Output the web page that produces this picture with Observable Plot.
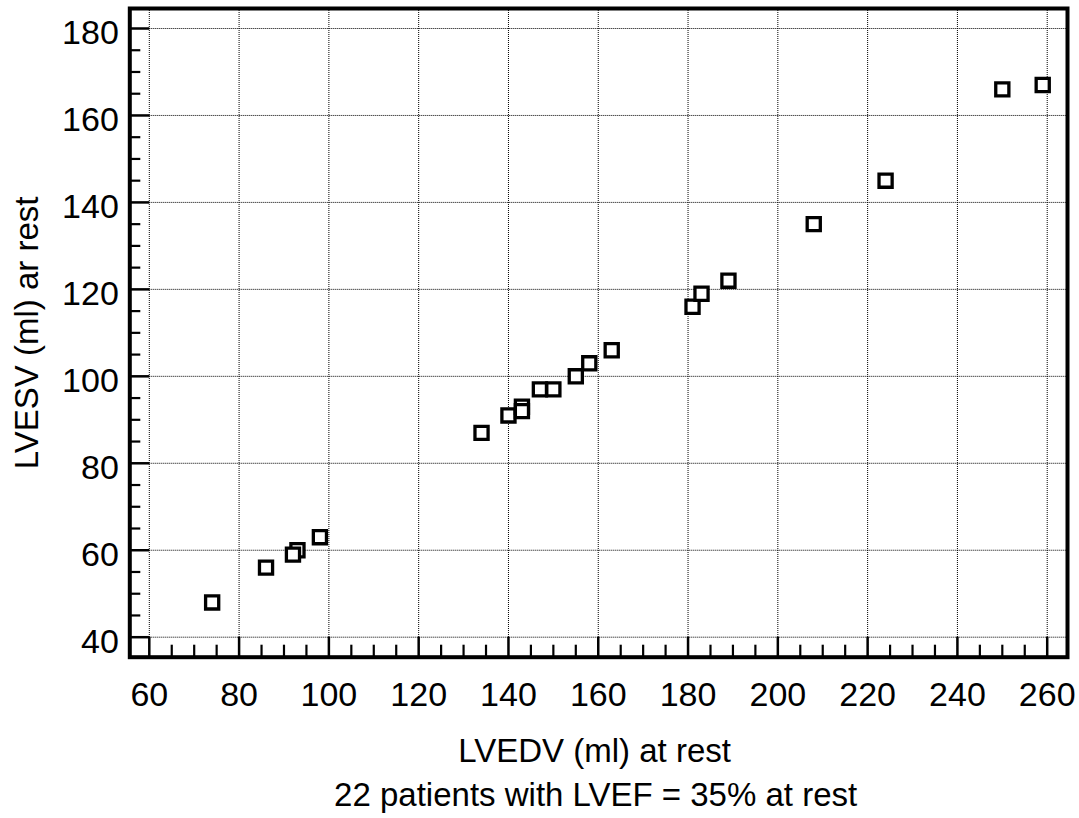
<!DOCTYPE html>
<html>
<head>
<meta charset="utf-8">
<script src="https://cdn.jsdelivr.net/npm/d3@7"></script>
<script src="https://cdn.jsdelivr.net/npm/@observablehq/plot@0.6"></script>
<style>
  html, body { margin: 0; padding: 0; background: #fff; }
  #chart svg { display: block; }
</style>
</head>
<body>
<div id="chart"></div>
<script>
// LVEDV (x) and LVESV (y) at rest
const lvedv = [74, 86, 93, 92, 98, 134, 140, 143, 143, 147, 150, 155, 158, 163, 181, 183, 189, 208, 224, 250, 259];
const lvesv = [48, 56, 60, 59, 63, 87, 91, 93, 92, 97, 97, 100, 103, 106, 116, 119, 122, 135, 145, 166, 167];

const xTicks = [60, 80, 100, 120, 140, 160, 180, 200, 220, 240, 260];
const yTicks = [40, 60, 80, 100, 120, 140, 160, 180];

const xLabel = "LVEDV (ml) at rest";
const yLabel = "LVESV (ml) ar rest";
const caption = "22 patients with LVEF = 35% at rest";

const data = lvedv.map((x, i) => ({x, y: lvesv[i]}));
const xMinor = d3.range(60, 261, 5).filter(v => v % 20 !== 0);
const yMinor = d3.range(40, 181, 5).filter(v => v % 20 !== 0);

const W = 1079, H = 818;
const mL = 129.3, mR = 12, mT = 8, mB = 161.3;
const innerW = W - mL - mR, innerH = H - mT - mB;
const font = "'Liberation Sans', Arial, Helvetica, sans-serif";

const chart = Plot.plot({
  width: W,
  height: H,
  marginLeft: mL,
  marginRight: mR,
  marginTop: mT,
  marginBottom: mB,
  style: {fontFamily: font, fontSize: "33px", background: "#fff", color: "#000", overflow: "visible"},
  x: {domain: [55.657, 264.52]},
  y: {domain: [35.4, 184.6]},
  marks: [
    // dotted grid
    Plot.ruleX(xTicks, {x: d => d, stroke: "#000", strokeWidth: 1, strokeDasharray: "1,1"}),
    Plot.ruleY(yTicks, {y: d => d, stroke: "#000", strokeWidth: 1, strokeDasharray: "1,1"}),
    // inward ticks
    Plot.ruleX(xTicks, {x: d => d, insetTop: innerH - 20, stroke: "#000", strokeWidth: 2.5}),
    Plot.ruleX(xMinor, {x: d => d, insetTop: innerH - 12, stroke: "#000", strokeWidth: 2.2}),
    Plot.ruleY(yTicks, {y: d => d, insetRight: innerW - 20, stroke: "#000", strokeWidth: 2.5}),
    Plot.ruleY(yMinor, {y: d => d, insetRight: innerW - 11, stroke: "#000", strokeWidth: 2.2}),
    // points
    Plot.dot(data, {x: "x", y: "y", symbol: "square", r: 7.4, stroke: "#000", strokeWidth: 3.3, fill: "#fff"}),
    // frame
    Plot.frame({stroke: "#000", strokeWidth: 4}),
    // tick labels
    Plot.axisX(xTicks, {tickSize: 0, tickPadding: 25, fontSize: 34, label: null}),
    Plot.axisY(yTicks, {tickSize: 0, tickPadding: 11, fontSize: 34, dy: 4.5, label: null}),
    // axis titles
    Plot.text([xLabel], {frameAnchor: "bottom", text: d => d, dy: 105, dx: -4, lineAnchor: "bottom", textAnchor: "middle", fontSize: 33}),
    Plot.text([caption], {frameAnchor: "bottom", text: d => d, dy: 149, dx: -3, lineAnchor: "bottom", textAnchor: "middle", fontSize: 33}),
    Plot.text([yLabel], {frameAnchor: "left", text: d => d, rotate: -90, dx: -92.3, lineAnchor: "bottom", textAnchor: "middle", fontSize: 33})
  ]
});
document.getElementById("chart").append(chart);
</script>
</body>
</html>
